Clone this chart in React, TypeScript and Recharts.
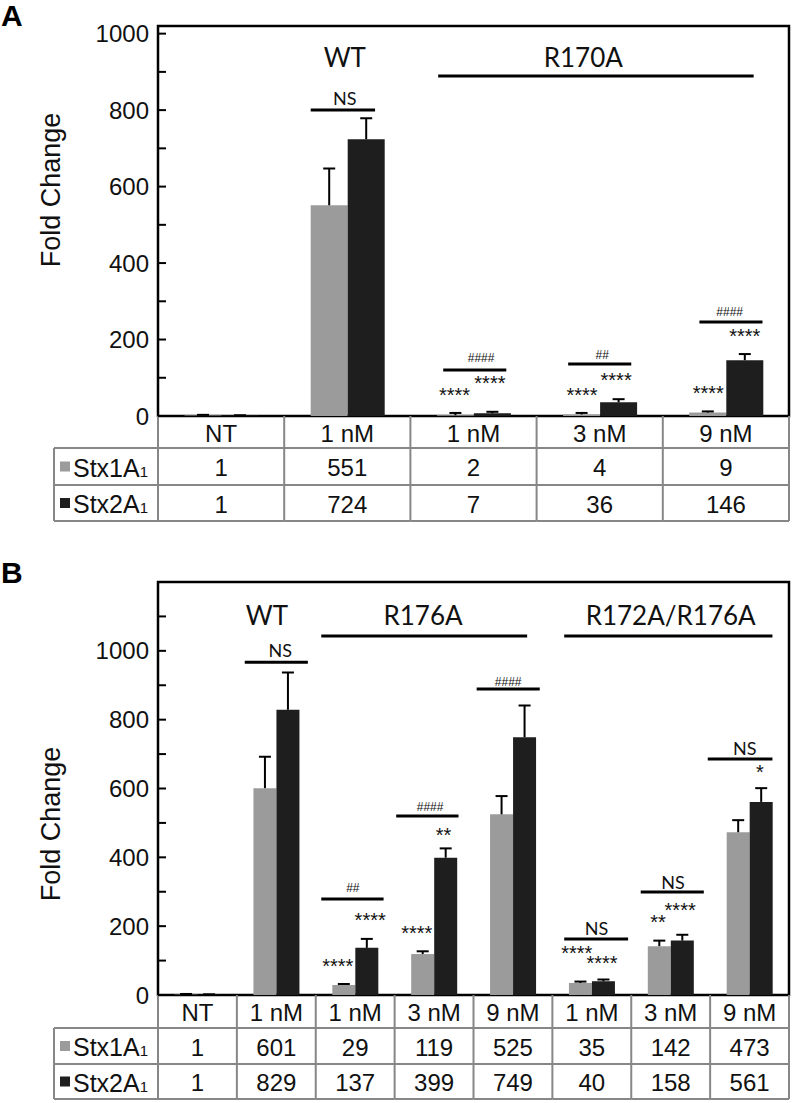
import React from "react";
import {
  BarChart,
  Bar,
  XAxis,
  YAxis,
  ReferenceLine,
  ReferenceDot,
  ReferenceArea,
} from "recharts";

// ---- Panel A: WT vs R170A ----
const groupsA = ["NT", "1 nM", "1 nM", "3 nM", "9 nM"];
const stx1A = [1, 551, 2, 4, 9];
const stx2A = [1, 724, 7, 36, 146];
const sd1A = [2, 96, 6, 4, 3];
const sd2A = [1, 55, 4, 8, 16];
const yTicksA = [0, 100, 200, 300, 400, 500, 600, 700, 800, 900, 1000];

// ---- Panel B: WT vs R176A vs R172A/R176A ----
const groupsB = ["NT", "1 nM", "1 nM", "3 nM", "9 nM", "1 nM", "3 nM", "9 nM"];
const stx1B = [1, 601, 29, 119, 525, 35, 142, 473];
const stx2B = [1, 829, 137, 399, 749, 40, 158, 561];
const sd1B = [2, 91, 3, 8, 53, 4, 16, 35];
const sd2B = [1, 108, 26, 27, 92, 5, 17, 40];
const yTicksB = [0, 100, 200, 300, 400, 500, 600, 700, 800, 900, 1000, 1100];

const rowNames = ["Stx1A", "Stx2A"];

type Bracket = { x1: number; x2: number; y: number };
type Note = { x: number; y: number; text: string; kind: "group" | "ns" | "star" | "hash" };

// annotation positions in (category units, fold change) space
const bracketsA: Bracket[] = [
  { x1: 1.21, x2: 1.72, y: 800 },
  { x1: 2.22, x2: 4.72, y: 889 },
  { x1: 2.26, x2: 2.76, y: 120 },
  { x1: 3.25, x2: 3.75, y: 136 },
  { x1: 4.29, x2: 4.79, y: 246 },
];
const notesA: Note[] = [
  { x: 1.48, y: 939, text: "WT", kind: "group" },
  { x: 3.37, y: 939, text: "R170A", kind: "group" },
  { x: 1.48, y: 831, text: "NS", kind: "ns" },
  { x: 2.56, y: 152, text: "####", kind: "hash" },
  { x: 2.63, y: 97, text: "****", kind: "star" },
  { x: 2.35, y: 68, text: "****", kind: "star" },
  { x: 3.52, y: 159, text: "##", kind: "hash" },
  { x: 3.63, y: 105, text: "****", kind: "star" },
  { x: 3.36, y: 68, text: "****", kind: "star" },
  { x: 4.53, y: 272, text: "####", kind: "hash" },
  { x: 4.65, y: 220, text: "****", kind: "star" },
  { x: 4.36, y: 73, text: "****", kind: "star" },
];

const bracketsB: Bracket[] = [
  { x1: 1.1, x2: 1.9, y: 967 },
  { x1: 2.07, x2: 4.68, y: 1043 },
  { x1: 5.15, x2: 7.79, y: 1043 },
  { x1: 2.07, x2: 2.86, y: 279 },
  { x1: 3.02, x2: 3.81, y: 520 },
  { x1: 4.04, x2: 4.84, y: 889 },
  { x1: 5.15, x2: 5.96, y: 163 },
  { x1: 6.12, x2: 6.92, y: 299 },
  { x1: 6.97, x2: 7.79, y: 686 },
];
const notesB: Note[] = [
  { x: 1.38, y: 1104, text: "WT", kind: "group" },
  { x: 3.36, y: 1104, text: "R176A", kind: "group" },
  { x: 6.5, y: 1104, text: "R172A/R176A", kind: "group" },
  { x: 1.55, y: 1002, text: "NS", kind: "ns" },
  { x: 2.47, y: 311, text: "##", kind: "hash" },
  { x: 2.69, y: 230, text: "****", kind: "star" },
  { x: 2.28, y: 96, text: "****", kind: "star" },
  { x: 3.45, y: 546, text: "####", kind: "hash" },
  { x: 3.62, y: 479, text: "**", kind: "star" },
  { x: 3.28, y: 192, text: "****", kind: "star" },
  { x: 4.44, y: 909, text: "####", kind: "hash" },
  { x: 5.56, y: 195, text: "NS", kind: "ns" },
  { x: 5.31, y: 134, text: "****", kind: "star" },
  { x: 5.63, y: 107, text: "****", kind: "star" },
  { x: 6.53, y: 328, text: "NS", kind: "ns" },
  { x: 6.62, y: 261, text: "****", kind: "star" },
  { x: 6.34, y: 224, text: "**", kind: "star" },
  { x: 7.44, y: 718, text: "NS", kind: "ns" },
  { x: 7.63, y: 660, text: "*", kind: "star" },
];

const GRAY = "#9b9b9b";
const DARK = "#1e1e1e";
const LINE = "#878787";
const INK = "#111";
const ARIAL = "'Liberation Sans', Arial, sans-serif";
const GILL = "Lato, 'Open Sans', sans-serif";
const PLOT_W = 631;
const LABEL_LEFT = 54;

const noteStyle = {
  group: { font: GILL, size: 26, dy: 0 },
  ns: { font: GILL, size: 18, dy: 0 },
  star: { font: ARIAL, size: 20, dy: 4.5 },
  hash: { font: ARIAL, size: 12, dy: 0 },
};

function Whisker(props: any) {
  const { x, y, width, height } = props;
  if (x == null || y == null) return null;
  const cx = x + width / 2;
  return (
    <g>
      <line x1={cx} x2={cx} y1={y} y2={y + height} stroke="#000" strokeWidth={2} />
      <line x1={cx - 6} x2={cx + 6} y1={y} y2={y} stroke="#000" strokeWidth={2} />
    </g>
  );
}

function yTick(props: any) {
  const { x, y, payload } = props;
  const v = payload.value;
  return (
    <g>
      <line x1={x} x2={x + 8} y1={y} y2={y} stroke="#000" strokeWidth={2} />
      {v % 200 === 0 && v <= 1000 ? (
        <text x={x - 9} y={y} textAnchor="end" dominantBaseline="central" fontSize={24} fontFamily={ARIAL} fill={INK}>
          {v}
        </text>
      ) : null}
    </g>
  );
}

function tableTick(groups: string[], s1: number[], s2: number[], rows: number[]) {
  return (props: any) => {
    const { x, y, index } = props;
    const bw = PLOT_W / groups.length;
    const l = x - bw / 2;
    const r = x + bw / 2;
    const y1 = y + rows[0];
    const y2 = y1 + rows[1];
    const y3 = y2 + rows[2];
    const txt = {
      textAnchor: "middle" as const,
      dominantBaseline: "central" as const,
      fontSize: 24,
      fontFamily: ARIAL,
      fill: INK,
    };
    return (
      <g>
        <line x1={l} x2={l} y1={y} y2={y3} stroke={LINE} strokeWidth={2} />
        {index === groups.length - 1 && <line x1={r} x2={r} y1={y} y2={y3} stroke={LINE} strokeWidth={2} />}
        <line x1={l} x2={r} y1={y1} y2={y1} stroke={LINE} strokeWidth={2} />
        <line x1={l} x2={r} y1={y2} y2={y2} stroke={LINE} strokeWidth={2} />
        <line x1={l} x2={r} y1={y3} y2={y3} stroke={LINE} strokeWidth={2} />
        <text x={x} y={(y + y1) / 2 + 1} {...txt}>{groups[index]}</text>
        <text x={x} y={(y1 + y2) / 2 + 1} {...txt}>{s1[index]}</text>
        <text x={x} y={(y2 + y3) / 2 + 1} {...txt}>{s2[index]}</text>
        {index === 0 && (
          <g>
            <line x1={LABEL_LEFT} x2={LABEL_LEFT} y1={y1} y2={y3} stroke={LINE} strokeWidth={2} />
            <line x1={LABEL_LEFT} x2={l} y1={y1} y2={y1} stroke={LINE} strokeWidth={2} />
            <line x1={LABEL_LEFT} x2={l} y1={y2} y2={y2} stroke={LINE} strokeWidth={2} />
            <line x1={LABEL_LEFT} x2={l} y1={y3} y2={y3} stroke={LINE} strokeWidth={2} />
            {rowNames.map((name, k) => {
              const top = k === 0 ? y1 : y2;
              const bot = k === 0 ? y2 : y3;
              const mid = (top + bot) / 2;
              return (
                <g key={name}>
                  <rect x={60} y={mid - 5} width={10} height={10} fill={k === 0 ? GRAY : DARK} />
                  <text x={73} y={mid + 1} dominantBaseline="central" fontSize={25} fontFamily={ARIAL} fill={INK}>
                    <tspan>{name}</tspan>
                    <tspan fontSize={15} dy={3}>1</tspan>
                  </text>
                </g>
              );
            })}
          </g>
        )}
      </g>
    );
  };
}

interface PanelProps {
  groups: string[];
  s1: number[];
  s2: number[];
  e1: number[];
  e2: number[];
  yMax: number;
  yTicks: number[];
  brackets: Bracket[];
  notes: Note[];
  height: number;
  top: number;
  axisH: number;
  rows: number[];
  labelY: number;
}

function Panel(p: PanelProps) {
  const n = p.groups.length;
  const data = p.groups.map((g, i) => ({
    id: i,
    pos: i + 0.5,
    group: g,
    s1: p.s1[i],
    s2: p.s2[i],
    e1: p.e1[i],
    e2: p.e2[i],
  }));
  return (
    <BarChart
      width={792}
      height={p.height}
      data={data}
      margin={{ top: p.top, right: 3, bottom: 0, left: 0 }}
      barCategoryGap="21%"
      barGap={0}
    >
      <XAxis
        dataKey="id"
        type="category"
        height={p.axisH}
        tickSize={0}
        tickMargin={0}
        axisLine={false}
        tickLine={false}
        interval={0}
        tick={tableTick(p.groups, p.s1, p.s2, p.rows)}
      />
      <XAxis
        xAxisId="n"
        dataKey="pos"
        type="number"
        domain={[0, n]}
        allowDataOverflow
        padding={{ left: 0, right: 0 }}
        hide
      />
      <YAxis
        width={158}
        domain={[0, p.yMax]}
        allowDataOverflow
        ticks={p.yTicks}
        interval={0}
        tickSize={0}
        tickMargin={0}
        axisLine={false}
        tickLine={false}
        tick={yTick}
        label={{
          content: () => (
            <text
              x={51}
              y={p.labelY}
              transform={`rotate(-90, 51, ${p.labelY})`}
              textAnchor="middle"
              dominantBaseline="central"
              fontSize={27}
              fontFamily={ARIAL}
              fill={INK}
            >
              Fold Change
            </text>
          ),
        }}
      />
      <Bar dataKey="s1" stackId="a" fill={GRAY} isAnimationActive={false} />
      <Bar dataKey="e1" stackId="a" shape={Whisker} isAnimationActive={false} />
      <Bar dataKey="s2" stackId="b" fill={DARK} isAnimationActive={false} />
      <Bar dataKey="e2" stackId="b" shape={Whisker} isAnimationActive={false} />
      <ReferenceArea
        xAxisId="n"
        x1={0}
        x2={n}
        y1={0}
        y2={p.yMax}
        fill="none"
        fillOpacity={0}
        stroke="#000"
        strokeWidth={2.5}
        ifOverflow="visible"
      />
      {p.brackets.map((b, i) => (
        <ReferenceLine
          key={`b${i}`}
          xAxisId="n"
          segment={[
            { x: b.x1, y: b.y },
            { x: b.x2, y: b.y },
          ]}
          stroke="#000"
          strokeWidth={3}
          ifOverflow="visible"
        />
      ))}
      {p.notes.map((t, i) => {
        const st = noteStyle[t.kind];
        return (
          <ReferenceDot
            key={`t${i}`}
            xAxisId="n"
            x={t.x}
            y={t.y}
            r={0}
            fill="none"
            stroke="none"
            ifOverflow="visible"
            label={{
              content: (lp: any) => {
                const vb = lp.viewBox || {};
                const cx = (vb.x ?? 0) + (vb.width ?? 0) / 2;
                const cy = (vb.y ?? 0) + (vb.height ?? 0) / 2;
                return (
                  <text
                    x={cx}
                    y={cy + st.dy}
                    textAnchor="middle"
                    dominantBaseline="central"
                    fontSize={st.size}
                    fontFamily={st.font}
                    fill={INK}
                  >
                    {t.text}
                  </text>
                );
              },
            }}
          />
        );
      })}
    </BarChart>
  );
}

export default function App() {
  return (
    <div
      style={{
        position: "absolute",
        left: 0,
        top: 0,
        width: 792,
        height: 1103,
        background: "#fff",
        overflow: "hidden",
      }}
    >
      <div style={{ position: "absolute", left: 0, top: 0 }}>
        <Panel
          groups={groupsA}
          s1={stx1A}
          s2={stx2A}
          e1={sd1A}
          e2={sd2A}
          yMax={1020}
          yTicks={yTicksA}
          brackets={bracketsA}
          notes={notesA}
          height={524}
          top={26}
          axisH={108}
          rows={[32, 37, 36]}
          labelY={190}
        />
      </div>
      <div style={{ position: "absolute", left: 0, top: 560 }}>
        <Panel
          groups={groupsB}
          s1={stx1B}
          s2={stx2B}
          e1={sd1B}
          e2={sd2B}
          yMax={1200}
          yTicks={yTicksB}
          brackets={bracketsB}
          notes={notesB}
          height={541}
          top={22}
          axisH={106}
          rows={[33, 36, 35]}
          labelY={264}
        />
      </div>
      <div
        style={{
          position: "absolute",
          left: 1,
          top: 1,
          fontFamily: ARIAL,
          fontWeight: 700,
          fontSize: 30,
          lineHeight: "30px",
          color: "#000",
        }}
      >
        A
      </div>
      <div
        style={{
          position: "absolute",
          left: 1,
          top: 558,
          fontFamily: ARIAL,
          fontWeight: 700,
          fontSize: 30,
          lineHeight: "30px",
          color: "#000",
        }}
      >
        B
      </div>
    </div>
  );
}
